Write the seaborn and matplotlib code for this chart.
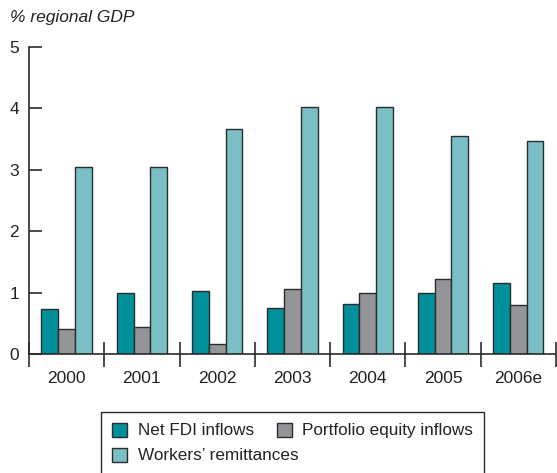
import pandas as pd
import seaborn as sns
import matplotlib.pyplot as plt
from matplotlib.ticker import FixedLocator, NullFormatter
from matplotlib.patches import Patch, Rectangle

# Data (% of regional GDP)
years = ['2000', '2001', '2002', '2003', '2004', '2005', '2006e']
fdi = [0.73, 0.99, 1.03, 0.75, 0.81, 0.99, 1.16]
portfolio = [0.41, 0.44, 0.17, 1.06, 1.00, 1.22, 0.80]
remittances = [3.05, 3.05, 3.67, 4.03, 4.03, 3.55, 3.47]
series = ['Net FDI inflows', 'Portfolio equity inflows', "Workers\u2019 remittances"]
colors = ['#00909b', '#949599', '#7bbfc6']

df = pd.DataFrame({'year': years, series[0]: fdi, series[1]: portfolio, series[2]: remittances})
df_long = df.melt(id_vars='year', var_name='series', value_name='value')

sns.set_style('white')
plt.rcParams['font.family'] = ['Liberation Sans', 'DejaVu Sans']

W, H = 557, 473
fig = plt.figure(figsize=(W / 100, H / 100), dpi=100)
ax = fig.add_axes([0.052, 0.2516, 0.946, 0.649])

sns.barplot(data=df_long, x='year', y='value', hue='series', hue_order=series,
            palette=colors, width=0.667, edgecolor='#2b2b2b', linewidth=1.0,
            saturation=1, ax=ax, legend=False)

ax.set_ylim(0, 5)
ax.set_xlim(-0.5, len(years) - 0.5)
ax.set_xlabel('')
ax.set_ylabel('')
ax.set_yticks(range(6))
ax.tick_params(axis='y', left=True, direction='in', length=9, width=1.2, color='#2b2b2b',
               labelsize=12.5, labelcolor='#222222', pad=7)

# x ticks at group boundaries, labels at centres
ax.xaxis.set_major_locator(FixedLocator([i - 0.5 for i in range(len(years) + 1)]))
ax.xaxis.set_major_formatter(NullFormatter())
ax.xaxis.set_minor_locator(FixedLocator(range(len(years))))
ax.set_xticklabels(years, minor=True)
ax.tick_params(axis='x', which='major', bottom=True, direction='inout', length=18,
               width=1.2, color='#2b2b2b')
ax.tick_params(axis='x', which='minor', bottom=True, length=0, labelsize=12.5,
               labelcolor='#222222', pad=12)

sns.despine(ax=ax, top=True, right=True)
for s in ['left', 'bottom']:
    ax.spines[s].set_color('#2b2b2b')
    ax.spines[s].set_linewidth(1.2)

fig.text(0.018, 0.962, '% regional GDP', fontsize=12.5, style='italic',
         color='#222222', ha='left', va='center')

# legend: two frameless legends inside one hand-drawn box
handles = [Patch(facecolor=c, edgecolor='#2b2b2b', linewidth=1.0) for c in colors]
leg_kw = dict(frameon=False, fontsize=12.3, handlelength=0.9, handleheight=0.9,
              handletextpad=0.6, borderpad=0, borderaxespad=0, loc='center left')
leg1 = fig.legend([handles[0], handles[1]], [series[0], series[1]], ncol=2,
                  columnspacing=1.35, bbox_to_anchor=(112 / W, 1 - 430.5 / H), **leg_kw)
leg2 = fig.legend([handles[2]], [series[2]],
                  bbox_to_anchor=(112 / W, 1 - 455.5 / H), **leg_kw)
for leg in (leg1, leg2):
    for t in leg.get_texts():
        t.set_color('#222222')

fig.patches.append(Rectangle((101 / W, -0.05), (484 - 101) / W, 0.05 + 1 - 412 / H,
                             transform=fig.transFigure, fill=False,
                             edgecolor='#2b2b2b', linewidth=1.0))

fig.savefig('out.png', dpi=100)
